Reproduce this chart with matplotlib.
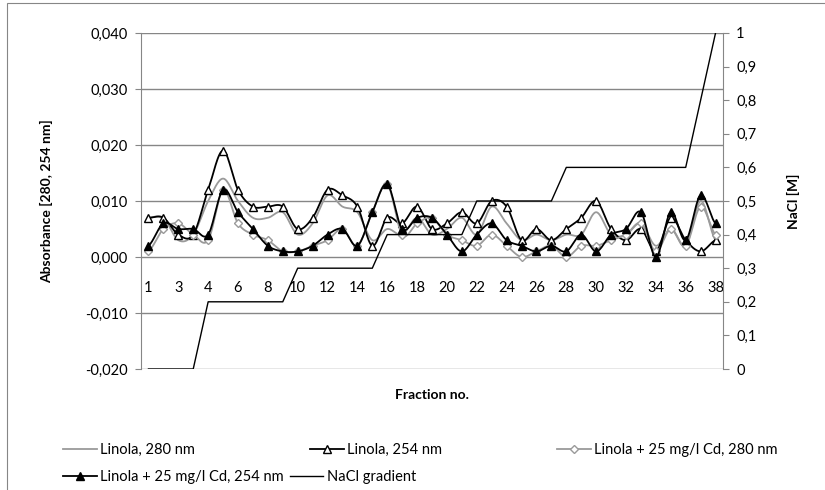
import matplotlib
matplotlib.use('Agg')
import matplotlib.pyplot as plt
from matplotlib.lines import Line2D
from matplotlib.patches import Rectangle
from matplotlib.ticker import FuncFormatter
import numpy as np

plt.rcParams['font.family'] = ['Lato', 'DejaVu Sans']

# x categories (39 fractions, every second one labelled on the axis)
tick_labels = ['1', '3', '4', '6', '8', '10', '12', '14', '16', '18', '20',
               '22', '24', '26', '28', '30', '32', '34', '36', '38']

linola_280 = [0.007, 0.007, 0.003, 0.004, 0.010, 0.014, 0.010, 0.007, 0.007, 0.008,
              0.004, 0.006, 0.011, 0.009, 0.008, 0.003, 0.005, 0.004, 0.007, 0.004,
              0.005, 0.007, 0.004, 0.009, 0.006, 0.003, 0.004, 0.003, 0.004, 0.004,
              0.008, 0.004, 0.004, 0.006, 0.002, 0.005, 0.002, 0.010, 0.003]
linola_254 = [0.007, 0.007, 0.004, 0.004, 0.012, 0.019, 0.012, 0.009, 0.009, 0.009,
              0.005, 0.007, 0.012, 0.011, 0.009, 0.002, 0.007, 0.006, 0.009, 0.005,
              0.006, 0.008, 0.006, 0.010, 0.009, 0.003, 0.005, 0.003, 0.005, 0.007,
              0.010, 0.005, 0.003, 0.005, 0.001, 0.007, 0.003, 0.001, 0.003]
cd_280 = [0.001, 0.005, 0.006, 0.004, 0.003, 0.012, 0.006, 0.004, 0.003, 0.001,
          0.001, 0.002, 0.003, 0.005, 0.002, 0.008, 0.013, 0.004, 0.006, 0.007,
          0.004, 0.003, 0.002, 0.004, 0.002, 0.000, 0.001, 0.002, 0.000, 0.002,
          0.002, 0.003, 0.004, 0.006, 0.001, 0.005, 0.002, 0.009, 0.004]
cd_254 = [0.002, 0.006, 0.005, 0.005, 0.004, 0.012, 0.008, 0.005, 0.002, 0.001,
          0.001, 0.002, 0.004, 0.005, 0.002, 0.008, 0.013, 0.005, 0.007, 0.007,
          0.004, 0.001, 0.004, 0.006, 0.003, 0.002, 0.001, 0.002, 0.001, 0.004,
          0.001, 0.004, 0.005, 0.008, 0.000, 0.008, 0.003, 0.011, 0.006]
nacl = [0, 0, 0, 0, 0.2, 0.2, 0.2, 0.2, 0.2, 0.2,
        0.3, 0.3, 0.3, 0.3, 0.3, 0.3, 0.4, 0.4, 0.4, 0.4,
        0.4, 0.4, 0.5, 0.5, 0.5, 0.5, 0.5, 0.5, 0.6, 0.6,
        0.6, 0.6, 0.6, 0.6, 0.6, 0.6, 0.6, 0.8, 1.0]


def smooth(y, steps=16):
    """Catmull-Rom curve through the points, like Excel's smoothed lines"""
    y = np.asarray(y, dtype=float)
    p = np.concatenate([[y[0]], y, [y[-1]]])
    xs, ys = [], []
    t = np.linspace(0, 1, steps, endpoint=False)
    for i in range(len(y) - 1):
        p0, p1, p2, p3 = p[i], p[i + 1], p[i + 2], p[i + 3]
        seg = 0.5 * (2 * p1 + (p2 - p0) * t + (2 * p0 - 5 * p1 + 4 * p2 - p3) * t ** 2
                     + (3 * p1 - p0 - 3 * p2 + p3) * t ** 3)
        xs.extend(i + t)
        ys.extend(seg)
    xs.append(len(y) - 1)
    ys.append(y[-1])
    return np.array(xs), np.array(ys)


W, H = 825, 490
fig = plt.figure(figsize=(W / 100, H / 100), dpi=100)
ax = fig.add_axes([141 / W, 1 - 369 / H, (723 - 141) / W, (369 - 33) / H])
ax2 = ax.twinx()

x = np.arange(len(nacl))
grey = '#9a9a9a'
axis_grey = '#868686'

sx, sy = smooth(linola_280)
ax.plot(sx, sy, color=grey, lw=1.3, zorder=3)
sx, sy = smooth(linola_254)
ax.plot(sx, sy, color='black', lw=1.3, zorder=4)
ax.plot(x, linola_254, ls='none', marker='^', ms=6, mfc='white', mec='black', mew=1, zorder=4)
sx, sy = smooth(cd_280)
ax.plot(sx, sy, color=grey, lw=1.3, zorder=5)
ax.plot(x, cd_280, ls='none', marker='D', ms=4.5, mfc='white', mec=grey, mew=1, zorder=5)
sx, sy = smooth(cd_254)
ax.plot(sx, sy, color='black', lw=1.3, zorder=6)
ax.plot(x, cd_254, ls='none', marker='^', ms=6, mfc='black', mec='black', zorder=6)

ax2.plot(x, nacl, color='black', lw=1.0)

# left axis
ax.set_ylim(-0.02, 0.04)
ax.set_yticks(np.arange(-0.02, 0.0401, 0.01))
ax.yaxis.set_major_formatter(FuncFormatter(lambda v, p: f"{v:.3f}".replace('.', ',').replace('-0,000', '0,000')))
ax.grid(axis='y', color=axis_grey, lw=1)
ax.set_axisbelow(True)
ax.set_xlim(-0.5, len(nacl) - 0.5)
ax.set_xticks(x[::2])
ax.set_xticklabels(tick_labels)
ax.spines['bottom'].set_position(('data', 0))
ax.spines['bottom'].set_visible(False)
ax.spines['top'].set_visible(False)
ax.spines['right'].set_visible(False)
ax.spines['left'].set_color(axis_grey)
ax.tick_params(axis='x', length=0, pad=17, labelsize=10.5)
ax.tick_params(axis='y', length=4.5, color=axis_grey, pad=5, labelsize=10.5)
fig.text(47 / W, 1 - 201 / H, 'Absorbance [280, 254 nm]', rotation=90, ha='center', va='center',
         fontsize=10, fontweight='bold')
fig.text(432 / W, 1 - 395 / H, 'Fraction no.', ha='center', va='center', fontsize=10, fontweight='bold')

# right axis
ax2.set_ylim(0, 1)
ax2.set_yticks(np.arange(0, 1.01, 0.1))
ax2.yaxis.set_major_formatter(FuncFormatter(lambda v, p: f"{v:.1f}".replace('.', ',').replace(',0', '')))
for s in ['top', 'bottom', 'left']:
    ax2.spines[s].set_visible(False)
ax2.spines['right'].set_color(axis_grey)
ax2.tick_params(axis='y', length=4.5, color=axis_grey, pad=5, labelsize=10.5)
fig.text(793 / W, 1 - 201 / H, 'NaCl [M]', rotation=90, ha='center', va='center',
         fontsize=10, fontweight='bold')

# legend
hA = Line2D([], [], color=grey, lw=1.3)
hB = Line2D([], [], color='black', lw=1.3, marker='^', ms=6, mfc='white', mec='black')
hC = Line2D([], [], color=grey, lw=1.3, marker='D', ms=4.5, mfc='white', mec=grey)
hD = Line2D([], [], color='black', lw=1.3, marker='^', ms=6, mfc='black', mec='black')
hN = Line2D([], [], color='black', lw=1.0)
leg_kw = dict(frameon=False, loc='center left', fontsize=10.5, handlelength=2.3,
              handletextpad=0.25, borderpad=0, borderaxespad=0)
row1 = 1 - 450 / H
row2 = 1 - 477 / H
fig.legend([hA], ['Linola, 280 nm'], bbox_to_anchor=(63 / W, row1), **leg_kw)
fig.legend([hB], ['Linola, 254 nm'], bbox_to_anchor=(310 / W, row1), **leg_kw)
fig.legend([hC], ['Linola + 25 mg/l Cd, 280 nm'], bbox_to_anchor=(557 / W, row1), **leg_kw)
fig.legend([hD, hN], ['Linola + 25 mg/l Cd, 254 nm', 'NaCl gradient'], ncol=2,
           columnspacing=0.4, bbox_to_anchor=(63 / W, row2), **leg_kw)

# chart area border (cut off at the right and bottom in the original)
fig.patches.append(Rectangle((7 / W, -10 / H), 830 / W, 497 / H, transform=fig.transFigure,
                             fill=False, edgecolor=axis_grey, lw=0.8))

fig.savefig('out.png', dpi=100)
